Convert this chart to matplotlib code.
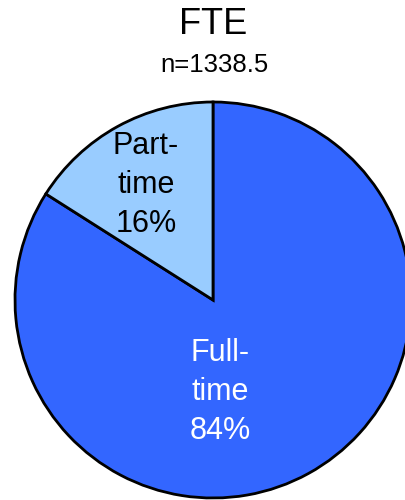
import matplotlib
matplotlib.use("Agg")
import matplotlib.pyplot as plt

# data
labels = ["Full-\ntime\n84%", "Part-\ntime\n16%"]
shares = [84, 16]
colors = ["#3366FF", "#99CCFF"]
title = "FTE"
subtitle = "n=1338.5"

plt.rcParams['font.family'] = ['Liberation Sans', 'DejaVu Sans']

fig = plt.figure(figsize=(4.05, 5), dpi=100)
ax = fig.add_axes([0, 0, 1, 1])

wedges, _ = ax.pie(shares, colors=colors, startangle=90, counterclock=False,
                   radius=0.99,
                   wedgeprops=dict(edgecolor="black", linewidth=2))

# labels inside the slices
ax.text(0.035, -0.46, labels[0], ha="center", va="center", fontsize=22,
        color="white", linespacing=1.39)
ax.text(-0.335, 0.575, labels[1], ha="center", va="center", fontsize=22,
        color="black", linespacing=1.39)

ax.set_xlim(-1.065, 0.96)
ax.set_ylim(-1.0, 1.5)
ax.set_aspect("equal")
ax.axis("off")

fig.text(213 / 405, 1 - 25 / 500, title, ha="center", va="center", fontsize=26)
fig.text(214 / 405, 1 - 65 / 500, subtitle, ha="center", va="center", fontsize=18.5)

fig.savefig("out.png", dpi=100)
